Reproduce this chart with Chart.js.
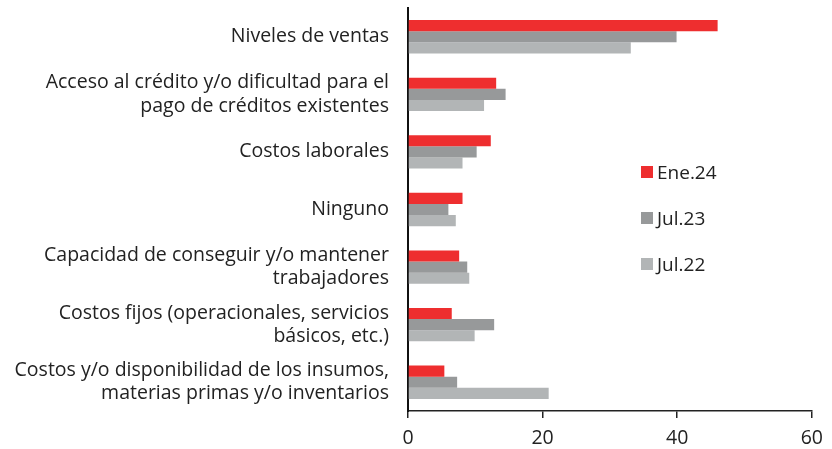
<!DOCTYPE html>
<html>
<head>
<meta charset="utf-8">
<script src="https://cdn.jsdelivr.net/npm/chart.js@4"></script>
<style>
  html, body { margin: 0; padding: 0; background: #fff; }
  #wrap { position: relative; width: 832px; height: 449px; }
  #legend { position: absolute; left: 641px; top: 160px; font-family: "Open Sans", sans-serif; font-size: 19px; color: #222; }
  #legend div { display: flex; align-items: center; height: 24px; margin-bottom: 22px; }
  #legend span.box { display: inline-block; width: 12px; height: 12px; margin-right: 4px; }
</style>
</head>
<body>
<div id="wrap">
  <canvas id="chart" width="832" height="449"></canvas>
  <div id="legend"></div>
</div>
<script>
// Categories (multi-line labels as arrays)
const categories = [
  ['Niveles de ventas'],
  ['Acceso al crédito y/o dificultad para el', 'pago de créditos existentes'],
  ['Costos laborales'],
  ['Ninguno'],
  ['Capacidad de conseguir y/o mantener', 'trabajadores'],
  ['Costos fijos (operacionales, servicios', 'básicos, etc.)'],
  ['Costos y/o disponibilidad de los insumos,', 'materias primas y/o inventarios']
];

// Series values (% of responses)
const ene24 = [46.0, 13.1, 12.3, 8.1, 7.6, 6.5, 5.4];
const jul23 = [39.9, 14.5, 10.2, 6.0, 8.8, 12.8, 7.3];
const jul22 = [33.1, 11.3, 8.1, 7.1, 9.1, 9.9, 20.9];

const seriesNames = ['Ene.24', 'Jul.23', 'Jul.22'];
const seriesColors = ['#ee2e2f', '#97999a', '#b2b5b6'];

const xTicks = [0, 20, 40, 60];

const font = { family: '"Open Sans", sans-serif', size: 19.5 };

const ctx = document.getElementById('chart').getContext('2d');
new Chart(ctx, {
  type: 'bar',
  data: {
    labels: categories,
    datasets: [ene24, jul23, jul22].map((d, i) => ({
      label: seriesNames[i],
      data: d,
      backgroundColor: seriesColors[i],
      borderWidth: 0,
      barPercentage: 1,
      categoryPercentage: 0.58
    }))
  },
  options: {
    indexAxis: 'y',
    responsive: false,
    animation: false,
    layout: { padding: { top: 8, right: 19, bottom: 0, left: 0 } },
    plugins: {
      legend: { display: false },
      tooltip: { enabled: false }
    },
    scales: {
      x: {
        min: xTicks[0],
        max: xTicks[xTicks.length - 1],
        afterBuildTicks: (scale) => { scale.ticks = xTicks.map(v => ({ value: v })); },
        afterFit: (scale) => { scale.height = 38; },
        grid: { drawOnChartArea: false, drawTicks: true, tickLength: 7, color: '#222', lineWidth: 1.5 },
        border: { display: true, color: '#222', width: 1.5 },
        ticks: { color: '#222', font: font, padding: 9, maxRotation: 0 }
      },
      y: {
        afterFit: (scale) => { scale.width = 408; scale.paddingTop = 0; scale.paddingBottom = 0; },
        grid: { display: false },
        border: { display: true, color: '#111', width: 2 },
        ticks: { color: '#222', font: font, padding: 11, autoSkip: false, lineHeight: 1.25 }
      }
    }
  }
});

// HTML legend
const legend = document.getElementById('legend');
seriesNames.forEach((name, i) => {
  const row = document.createElement('div');
  row.innerHTML = '<span class="box" style="background:' + seriesColors[i] + '"></span>' + name;
  legend.appendChild(row);
});
</script>
</body>
</html>
